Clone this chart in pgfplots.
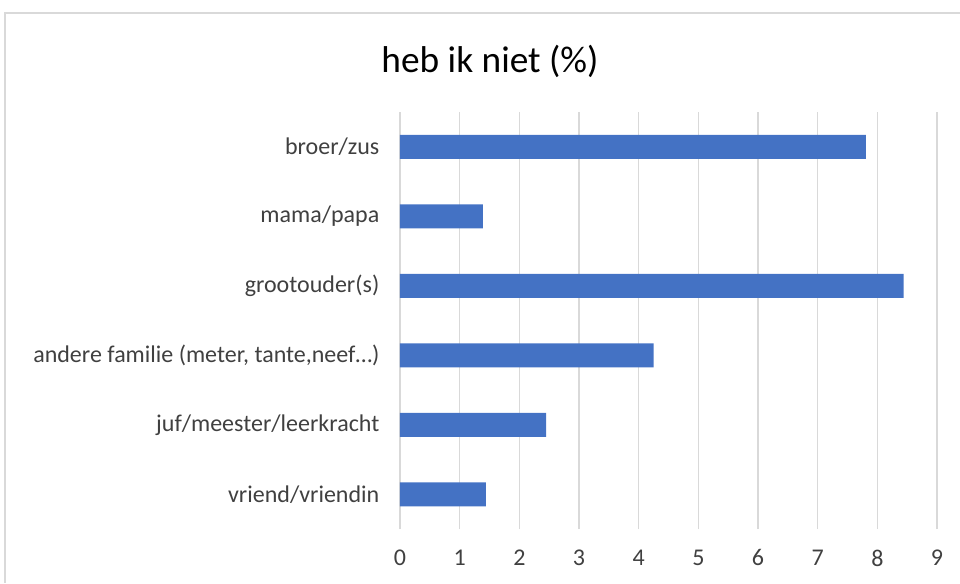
\documentclass[border=0pt]{standalone}
\usepackage{pgfplots}
\pgfplotsset{compat=1.18}
\usepackage{fontspec}
\setmainfont{Carlito}
\definecolor{barblue}{HTML}{4472C4}
\definecolor{gridgray}{HTML}{D9D9D9}
\definecolor{txt}{HTML}{404040}
\begin{document}
\begin{tikzpicture}
% picture frame: 960x583 px at 0.75pt per px
\path[use as bounding box] (0,0) rectangle (720pt,437.25pt);
\draw[gridgray, line width=1pt] (3.75pt,0) -- (3.75pt,427.5pt) -- (720pt,427.5pt);
\node[font=\fontsize{28}{33}\selectfont, text=black] at (367.5pt,391.5pt) {heb ik niet (\%)};
\begin{axis}[
    at={(300pt,40.5pt)}, anchor=south west,
    scale only axis,
    width=402.75pt, height=312.75pt,
    xbar, bar width=18pt,
    xmin=0, xmax=9,
    ymin=-0.5, ymax=5.5,
    xtick={0,1,2,3,4,5,6,7,8,9},
    ytick={0,1,2,3,4,5},
    yticklabels={{vriend/vriendin}, {juf/meester/leerkracht}, {andere familie (meter, tante,neef\ldots)}, {grootouder(s)}, {mama/papa}, {broer/zus}},
    axis line style={draw=none},
    major tick length=0pt,
    xmajorgrids=true,
    grid style={gridgray, line width=1.2pt},
    ticklabel style={font=\fontsize{18}{21}\selectfont, text=txt},
    yticklabel style={xshift=-12pt},
    xticklabel style={yshift=-12pt},
    /pgf/number format/assume math mode=true,
    clip=false,
]
\addplot[fill=barblue, draw=none] coordinates {
    (1.44,0) (2.45,1) (4.25,2) (8.44,3) (1.39,4) (7.81,5)
};
\end{axis}
\end{tikzpicture}
\end{document}
